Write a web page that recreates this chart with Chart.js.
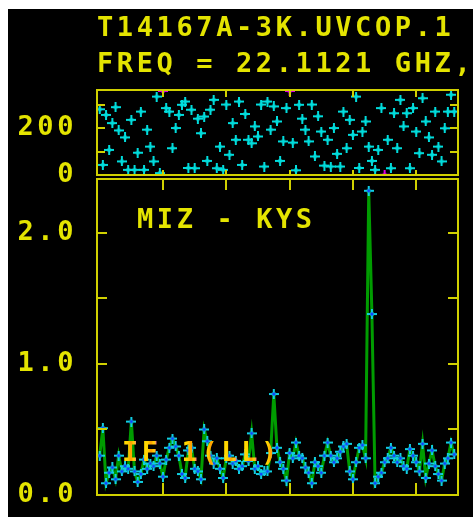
<!DOCTYPE html>
<html>
<head>
<meta charset="utf-8">
<script src="https://cdn.jsdelivr.net/npm/chart.js@4.4.1/dist/chart.umd.min.js"></script>
<style>
  html, body { margin: 0; padding: 0; background: #fff; }
  #plot { position: absolute; left: 8px; top: 9px; width: 465px; height: 508px; background: #000; overflow: hidden; }
  #plot canvas { position: absolute; left: 0; top: 0; }
</style>
</head>
<body>
<div id="plot">
  <canvas id="phaseCanvas" width="465" height="508"></canvas>
  <canvas id="ampCanvas" width="465" height="508"></canvas>
</div>
<script>
// ---- text ----
const fileName = 'T14167A-3K.UVCOP.1';
const freqLine = 'FREQ = 22.1121 GHZ,';
const baselineName = 'MIZ - KYS';
const ifLabel = 'IF 1(LL)';

// ---- data: channel number, amplitude (Jy) and phase (deg) ----
const channels = [
  0, 1, 2, 3, 4, 5, 6, 7, 8, 9,
  10, 11, 12, 13, 14, 15, 16, 17, 18, 19,
  20, 21, 22, 23, 24, 25, 26, 27, 28, 29,
  30, 31, 32, 33, 34, 35, 36, 37, 38, 39,
  40, 41, 42, 43, 44, 45, 46, 47, 48, 49,
  50, 51, 52, 53, 54, 55, 56, 57, 58, 59,
  60, 61, 62, 63, 64, 65, 66, 67, 68, 69,
  70, 71, 72, 73, 74, 75, 76, 77, 78, 79,
  80, 81, 82, 83, 84, 85, 86, 87, 88, 89,
  90, 91, 92, 93, 94, 95, 96, 97, 98, 99,
  100, 101, 102, 103, 104, 105, 106, 107, 108, 109,
  110, 111, 112
];
const amplitude = [
  0.30, 0.51, 0.09, 0.17, 0.21, 0.12, 0.30, 0.18, 0.22, 0.20,
  0.56, 0.18, 0.10, 0.16, 0.27, 0.20, 0.24, 0.22, 0.30, 0.24,
  0.14, 0.27, 0.36, 0.43, 0.37, 0.30, 0.16, 0.13, 0.34, 0.36,
  0.20, 0.18, 0.12, 0.50, 0.41, 0.30, 0.24, 0.28, 0.20, 0.13,
  0.28, 0.30, 0.24, 0.26, 0.20, 0.22, 0.31, 0.26, 0.47, 0.20,
  0.22, 0.16, 0.18, 0.18, 0.32, 0.77, 0.36, 0.25, 0.20, 0.11,
  0.32, 0.28, 0.40, 0.30, 0.28, 0.21, 0.17, 0.09, 0.25, 0.22,
  0.17, 0.30, 0.40, 0.30, 0.25, 0.28, 0.33, 0.37, 0.39, 0.18,
  0.12, 0.25, 0.36, 0.38, 0.28, 2.32, 1.38, 0.09, 0.14, 0.17,
  0.25, 0.28, 0.36, 0.30, 0.25, 0.28, 0.22, 0.20, 0.35, 0.30,
  0.25, 0.18, 0.39, 0.13, 0.24, 0.34, 0.22, 0.16, 0.11, 0.24,
  0.28, 0.40, 0.31
];
const phase = [
  280, 43, 256, 107, 221, 289, 190, 58, 160, 22,
  235, 22, 95, 270, 22, 193, 121, 58, 334, 8,
  358, 285, 270, 114, 200, 256, 299, 313, 30, 278,
  29, 240, 178, 249, 60, 278, 320, 29, 121, 22,
  300, 86, 221, 150, 313, 43, 260, 150, 135, 207,
  164, 300, 36, 313, 193, 292, 228, 60, 143, 285,
  358, 138, 20, 299, 240, 193, 143, 300, 79, 250,
  185, 40, 150, 36, 200, 90, 36, 270, 114, 235,
  171, 334, 30, 185, 228, 121, 60, 22, 107, 285,
  1, 150, 29, 263, 114, 320, 207, 263, 29, 285,
  185, 93, 327, 228, 160, 86, 270, 121, 58, 199,
  270, 342, 270
];

// ---- axis ticks ----
const channelTicks = [20, 40, 60, 80, 100];
const phaseTicks = [0, 100, 200, 300];
const phaseLabelled = [0, 200];
const ampTicks = [0, 0.5, 1.0, 1.5, 2.0];
const ampLabelled = [0, 1, 2];

// ---- style ----
const YELLOW = '#e4e400';
const FRAME = '#d0d000';
const FONT_FAMILY = '"DejaVu Sans Mono", "Liberation Mono", monospace';
const FONT_SIZE = 27;
const FONT_WEIGHT = 'bold';
const SPACING = '3.6px';

function makeMarker(arm, core) {
  const c = document.createElement('canvas');
  c.width = 10; c.height = 10;
  const g = c.getContext('2d');
  g.fillStyle = arm;
  g.fillRect(4, 0, 2, 10);
  g.fillRect(0, 4, 10, 2);
  g.beginPath();
  g.moveTo(5, 2); g.lineTo(8, 5); g.lineTo(5, 8); g.lineTo(2, 5); g.closePath();
  g.fill();
  if (core) {
    g.fillStyle = core;
    g.beginPath();
    g.moveTo(5, 3); g.lineTo(7, 5); g.lineTo(5, 7); g.lineTo(3, 5); g.closePath();
    g.fill();
  }
  return c;
}
const phaseMarker = makeMarker('#00dcdc', null);
const phaseEdgeMarker = makeMarker('#e000e0', null);
const ampMarker = makeMarker('#10d0e0', '#1040ff');

const xRange = { min: -0.85, max: 113.2 };

function xScaleOptions() {
  return { type: 'linear', display: false, min: xRange.min, max: xRange.max };
}

function yScaleOptions(min, max, ticks, labelled, fmt) {
  return {
    type: 'linear',
    min, max,
    grid: { display: false, drawTicks: false },
    border: { display: false },
    afterBuildTicks: (scale) => { scale.ticks = ticks.map(v => ({ value: v })); },
    afterFit: (scale) => {
      scale.width = 89;
      // labels may overhang the plot box; keep the box where the layout padding puts it
      scale.paddingTop = 0;
      scale.paddingBottom = 0;
    },
    ticks: {
      autoSkip: false,
      padding: 20,
      color: YELLOW,
      font: { family: FONT_FAMILY, size: FONT_SIZE, weight: FONT_WEIGHT },
      callback: (v) => labelled.includes(v) ? fmt(v) : ''
    }
  };
}

// letter spacing of the stroke-font look, applied to every text on the canvas
const spacingPlugin = {
  id: 'spacing',
  beforeDraw(chart) { if ('letterSpacing' in chart.ctx) chart.ctx.letterSpacing = SPACING; }
};

// frame box with inward ticks on all four sides
function frameTicks(chart, cfg) {
  const { ctx, chartArea: a, scales: { x, y } } = chart;
  ctx.save();
  ctx.strokeStyle = FRAME;
  ctx.lineWidth = 2;
  ctx.strokeRect(a.left, a.top, a.right - a.left, a.bottom - a.top);
  ctx.beginPath();
  for (const v of channelTicks) {
    const px = Math.round(x.getPixelForValue(v));
    ctx.moveTo(px, a.top); ctx.lineTo(px, a.top + cfg.xTop);
    ctx.moveTo(px, a.bottom); ctx.lineTo(px, a.bottom - cfg.xBottom);
  }
  for (const v of cfg.yTicks) {
    const py = Math.round(y.getPixelForValue(v));
    ctx.moveTo(a.left, py); ctx.lineTo(a.left + cfg.yLen, py);
    ctx.moveTo(a.right, py); ctx.lineTo(a.right - cfg.yLen, py);
  }
  ctx.stroke();
  ctx.restore();
}

const textFont = FONT_WEIGHT + ' ' + FONT_SIZE + 'px ' + FONT_FAMILY;

// ---- phase panel (top) ----
new Chart(document.getElementById('phaseCanvas'), {
  type: 'scatter',
  data: {
    datasets: [{
      data: channels.map((c, i) => ({ x: c, y: phase[i] })),
      pointStyle: (ctx) => {
        const v = phase[ctx.dataIndex];
        return (v > 350 || v < 3) ? phaseEdgeMarker : phaseMarker;
      },
      pointRadius: 4,
      showLine: false
    }]
  },
  options: {
    responsive: false,
    animation: false,
    devicePixelRatio: 1,
    layout: { padding: { top: 81, bottom: 342, left: 0, right: 15 } },
    plugins: { legend: { display: false }, tooltip: { enabled: false } },
    scales: {
      x: xScaleOptions(),
      y: yScaleOptions(0, 362, phaseTicks, phaseLabelled, v => String(v))
    }
  },
  plugins: [spacingPlugin, {
    id: 'phaseFrame',
    afterDraw(chart) {
      frameTicks(chart, { xTop: 7, xBottom: 5, yTicks: [100, 200, 300], yLen: 8 });
      const ctx = chart.ctx;
      ctx.save();
      ctx.font = textFont;
      ctx.fillStyle = YELLOW;
      ctx.textBaseline = 'alphabetic';
      ctx.textAlign = 'left';
      ctx.fillText(fileName, 89, 27);
      ctx.fillText(freqLine, 89, 63);
      ctx.restore();
    }
  }]
});

// ---- amplitude panel (bottom) ----
new Chart(document.getElementById('ampCanvas'), {
  type: 'line',
  data: {
    datasets: [{
      data: channels.map((c, i) => ({ x: c, y: amplitude[i] })),
      borderColor: '#009c00',
      borderWidth: 3,
      tension: 0,
      pointStyle: ampMarker,
      pointRadius: 4
    }]
  },
  options: {
    responsive: false,
    animation: false,
    devicePixelRatio: 1,
    layout: { padding: { top: 170, bottom: 22, left: 0, right: 15 } },
    plugins: { legend: { display: false }, tooltip: { enabled: false } },
    scales: {
      x: xScaleOptions(),
      y: yScaleOptions(0, 2.41, ampTicks, ampLabelled, v => v.toFixed(1))
    }
  },
  plugins: [spacingPlugin, {
    id: 'ampFrame',
    afterDatasetsDraw(chart) {
      const ctx = chart.ctx;
      ctx.save();
      ctx.font = textFont;
      ctx.textBaseline = 'alphabetic';
      ctx.textAlign = 'left';
      ctx.fillStyle = YELLOW;
      ctx.fillText(baselineName, 129, 219);
      // multi-coloured IF label
      const x0 = 114, w = 20, n = ifLabel.length;
      const grad = ctx.createLinearGradient(x0, 0, x0 + w * n, 0);
      for (let i = 0; i < n; i++) {
        grad.addColorStop(i / n, '#ffe400');
        grad.addColorStop((i + 0.3) / n, '#ffd000');
        grad.addColorStop((i + 0.45) / n, '#ff9a00');
        grad.addColorStop((i + 0.6) / n, '#ffd800');
        grad.addColorStop((i + 0.75) / n, '#ff60a0');
      }
      ctx.fillStyle = grad;
      ctx.fillText(ifLabel, x0, 452);
      ctx.restore();
    },
    afterDraw(chart) {
      frameTicks(chart, { xTop: 11, xBottom: 12, yTicks: [0, 0.5, 1.0, 1.5, 2.0], yLen: 10 });
    }
  }]
});
</script>
</body>
</html>
